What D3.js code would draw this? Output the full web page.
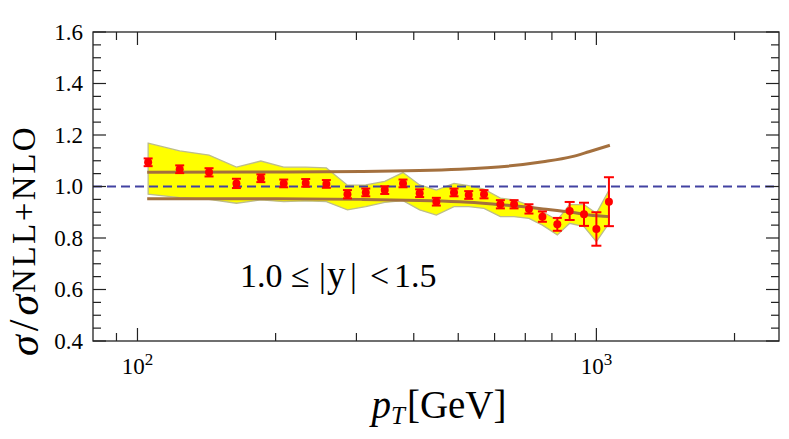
<!DOCTYPE html>
<html>
<head>
<meta charset="utf-8">
<script src="https://cdn.jsdelivr.net/npm/d3@7"></script>
<style>
  body { margin: 0; background: #fff; }
  text { font-family: "Liberation Serif", "Times New Roman", serif; fill: #000; }
</style>
</head>
<body>
<script>
  // data points (pT in GeV, ratio, stat error)
  var pT = [105.5, 123.6, 143.2, 164.3, 185.7, 208.3, 232.6, 258, 286.8, 314.4, 345.8, 379, 412,
            448, 489.5, 527, 569, 617.7, 661.6, 713, 762.8, 822, 874.6, 939.7, 1000, 1065];
  var ratio = [1.094, 1.067, 1.055, 1.012, 1.032, 1.012, 1.014, 1.010, 0.970, 0.977, 0.986, 1.012, 0.974,
               0.941, 0.977, 0.967, 0.970, 0.931, 0.931, 0.913, 0.883, 0.853, 0.905, 0.892, 0.835, 0.941];
  var err = [0.015, 0.015, 0.016, 0.018, 0.015, 0.015, 0.015, 0.015, 0.016, 0.015, 0.015, 0.015, 0.015,
             0.015, 0.015, 0.015, 0.016, 0.016, 0.016, 0.018, 0.02, 0.025, 0.035, 0.045, 0.065, 0.095];
  // systematic band
  var bandHi = [1.168, 1.138, 1.122, 1.075, 1.099, 1.075, 1.075, 1.072, 1.005, 1.006, 1.02, 1.054, 1.006,
                0.986, 1.012, 1.003, 0.99, 0.955, 0.948, 0.928, 0.902, 0.870, 0.930, 0.930, 0.896, 0.985];
  var bandLo = [0.970, 0.957, 0.950, 0.935, 0.948, 0.941, 0.944, 0.941, 0.909, 0.922, 0.938, 0.945, 0.909,
                0.889, 0.922, 0.922, 0.915, 0.883, 0.883, 0.876, 0.850, 0.812, 0.857, 0.844, 0.786, 0.857];
  // theory uncertainty curves
  var curvePt = [105, 200, 307, 504, 640, 765, 885, 963, 1070];
  var curveHi = [1.055, 1.056, 1.058, 1.067, 1.079, 1.096, 1.116, 1.135, 1.160];
  var curveLo = [0.952, 0.952, 0.950, 0.941, 0.927, 0.913, 0.900, 0.889, 0.883];

  var yTicks = [0.4, 0.6, 0.8, 1.0, 1.2, 1.4, 1.6];
  var xMajor = [100, 1000];
  var xMinor = [90, 200, 300, 400, 500, 600, 700, 800, 900, 2000];
  var labelParts = ['1.0', '\u2264', '|', 'y', '|', '<', '1.5'];

  var width = 789, height = 439;
  // plot frame (note: "top" is reserved on window)
  var mLeft = 93, mRight = 779, mTop = 32, mBottom = 341;

  var svg = d3.select('body').append('svg')
    .attr('width', width)
    .attr('height', height);

  // scales
  var xScale = d3.scaleLog().domain([80, 2500]).range([mLeft, mRight]);
  var yScale = d3.scaleLinear().domain([0.4, 1.6]).range([mBottom, mTop]);

  var pts = pT.map(function(p, i) {
    return { pt: p, v: ratio[i], e: err[i], hi: bandHi[i], lo: bandLo[i] };
  });

  // band
  var area = d3.area()
    .x(d => xScale(d.pt))
    .y0(d => yScale(d.lo))
    .y1(d => yScale(d.hi));
  svg.append('path')
    .datum(pts)
    .attr('d', area)
    .attr('fill', '#ffff00')
    .attr('stroke', '#bdbd8a')
    .attr('stroke-width', 1.3);

  // reference line at 1
  svg.append('line')
    .attr('x1', mLeft).attr('x2', mRight)
    .attr('y1', yScale(1)).attr('y2', yScale(1))
    .attr('stroke', '#4242a2')
    .attr('stroke-width', 2)
    .attr('stroke-dasharray', '9,5');

  // theory curves
  var curves = [curveHi, curveLo].map(function(c) {
    return curvePt.map(function(p, i) { return { pt: p, v: c[i] }; });
  });
  var line = d3.line()
    .x(d => xScale(d.pt))
    .y(d => yScale(d.v))
    .curve(d3.curveMonotoneX);
  svg.selectAll('.curve')
    .data(curves)
    .enter().append('path')
    .attr('class', 'curve')
    .attr('d', line)
    .attr('fill', 'none')
    .attr('stroke', '#a4703e')
    .attr('stroke-width', 3);

  // error bars and points
  var g = svg.append('g').attr('stroke', '#f00').attr('stroke-width', 2);
  var capW = d => d.e > 0.03 ? 5 : 4.5;
  g.selectAll('.bar').data(pts).enter().append('line')
    .attr('x1', d => xScale(d.pt)).attr('x2', d => xScale(d.pt))
    .attr('y1', d => yScale(d.v - d.e)).attr('y2', d => yScale(d.v + d.e));
  g.selectAll('.capHi').data(pts).enter().append('line')
    .attr('x1', d => xScale(d.pt) - capW(d)).attr('x2', d => xScale(d.pt) + capW(d))
    .attr('y1', d => yScale(d.v + d.e)).attr('y2', d => yScale(d.v + d.e));
  g.selectAll('.capLo').data(pts).enter().append('line')
    .attr('x1', d => xScale(d.pt) - capW(d)).attr('x2', d => xScale(d.pt) + capW(d))
    .attr('y1', d => yScale(d.v - d.e)).attr('y2', d => yScale(d.v - d.e));
  svg.selectAll('.pt').data(pts).enter().append('circle')
    .attr('cx', d => xScale(d.pt))
    .attr('cy', d => yScale(d.v))
    .attr('r', 4)
    .attr('fill', '#f00');

  // frame
  svg.append('rect')
    .attr('x', mLeft).attr('y', mTop)
    .attr('width', mRight - mLeft).attr('height', mBottom - mTop)
    .attr('fill', 'none')
    .attr('stroke', '#222')
    .attr('stroke-width', 1.3);

  // ticks, pointing inward on all sides
  var ticks = svg.append('g').attr('stroke', '#222').attr('stroke-width', 1.2);
  var yMinor = d3.range(0.45, 1.6, 0.05).filter(v => Math.abs(v * 5 - Math.round(v * 5)) > 0.01);
  function yTick(vals, len) {
    ticks.selectAll(null).data(vals).enter().append('line')
      .attr('x1', mLeft).attr('x2', mLeft + len)
      .attr('y1', d => yScale(d)).attr('y2', d => yScale(d));
    ticks.selectAll(null).data(vals).enter().append('line')
      .attr('x1', mRight).attr('x2', mRight - len)
      .attr('y1', d => yScale(d)).attr('y2', d => yScale(d));
  }
  function xTick(vals, len) {
    ticks.selectAll(null).data(vals).enter().append('line')
      .attr('x1', d => xScale(d)).attr('x2', d => xScale(d))
      .attr('y1', mBottom).attr('y2', mBottom - len);
    ticks.selectAll(null).data(vals).enter().append('line')
      .attr('x1', d => xScale(d)).attr('x2', d => xScale(d))
      .attr('y1', mTop).attr('y2', mTop + len);
  }
  yTick(yTicks, 13);
  yTick(yMinor, 8);
  xTick(xMajor, 13);
  xTick(xMinor, 8);

  // tick labels
  svg.selectAll('.ylab').data(yTicks).enter().append('text')
    .attr('x', mLeft - 10)
    .attr('y', d => yScale(d) + 7.5)
    .attr('text-anchor', 'end')
    .attr('font-size', 23)
    .text(d => d.toFixed(1));

  var xl = svg.selectAll('.xlab').data(xMajor).enter().append('text')
    .attr('x', d => xScale(d))
    .attr('y', 374)
    .attr('text-anchor', 'middle')
    .attr('font-size', 23);
  xl.append('tspan').text('10');
  xl.append('tspan').attr('dy', -9).attr('font-size', 17).text(d => Math.round(Math.log10(d)));

  // axis titles
  var xt = svg.append('text')
    .attr('x', 439).attr('y', 418)
    .attr('text-anchor', 'middle')
    .attr('font-size', 39);
  xt.append('tspan').attr('font-style', 'italic').text('p');
  xt.append('tspan').attr('font-style', 'italic').attr('font-size', 25).attr('dy', 6).text('T');
  xt.append('tspan').attr('dy', -6).attr('dx', 2).text('[GeV]');

  var yt = svg.append('text')
    .attr('transform', 'translate(38,356) rotate(-90)')
    .attr('font-size', 42);
  yt.append('tspan').attr('font-style', 'italic').text('\u03c3');
  yt.append('tspan').attr('dx', 4).text('/');
  yt.append('tspan').attr('dx', 4).attr('font-style', 'italic').text('\u03c3');
  yt.append('tspan').attr('dx', 2).attr('font-size', 33).attr('dy', -3)
    .attr('letter-spacing', 2.5).text('NLL+NLO');

  // rapidity label
  var labelX = [240, 291, 319, 327, 350, 370, 394];
  svg.append('text')
    .attr('y', 287)
    .attr('font-size', 34)
    .selectAll('tspan').data(labelParts).enter().append('tspan')
    .attr('x', (d, i) => labelX[i])
    .attr('font-size', d => d === 'y' ? 37 : null)
    .text(d => d);
</script>
</body>
</html>
